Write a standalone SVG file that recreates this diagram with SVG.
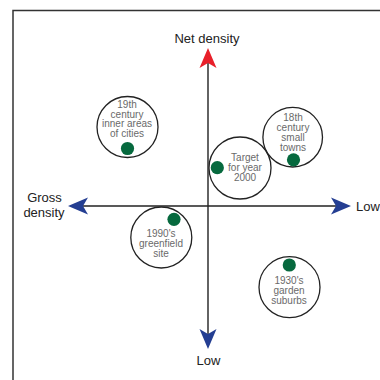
<svg xmlns="http://www.w3.org/2000/svg" width="380" height="380" viewBox="0 0 380 380">
<style>
.frame{fill:none;stroke:#333;stroke-width:1.5}
.axis{fill:none;stroke:#222;stroke-width:1.4}
.ring{fill:none;stroke:#222;stroke-width:1.3}
.dot{fill:#06693e}
.lbl{font-family:"Liberation Sans",Arial,sans-serif;font-size:13px;fill:#222}
.txt{font-family:"Liberation Sans",Arial,sans-serif;font-size:10px;fill:#6a6a6a;text-anchor:middle}
</style>
<defs>
<marker id="arrRed" viewBox="0 -8.5 20 17" refX="5" refY="0" markerWidth="20" markerHeight="17" markerUnits="userSpaceOnUse" orient="auto-start-reverse" overflow="visible">
<path d="M20,0 L0,-8.5 L5,0 L0,8.5 Z" fill="#e8202a"/>
</marker>
<marker id="arrBlue" viewBox="0 -8.5 20 17" refX="5" refY="0" markerWidth="20" markerHeight="17" markerUnits="userSpaceOnUse" orient="auto-start-reverse" overflow="visible">
<path d="M20,0 L0,-8.5 L5,0 L0,8.5 Z" fill="#243e92"/>
</marker>
</defs>
<rect width="380" height="380" fill="#fff"/>
<g id="frame">
<path class="frame" d="M13,382 V10.5 H382"/>
</g>
<g id="connectors">
<path class="axis" d="M208,334 V63" marker-start="url(#arrBlue)" marker-end="url(#arrRed)"/>
<path class="axis" d="M83,206 H336" marker-start="url(#arrBlue)" marker-end="url(#arrBlue)"/>
</g>
<g id="axis-labels">
<text class="lbl" x="207" y="43" text-anchor="middle">Net density</text>
<text class="lbl" x="44.5" y="201.5" text-anchor="middle">Gross</text>
<text class="lbl" x="44" y="217" text-anchor="middle">density</text>
<text class="lbl" x="356" y="211">Low</text>
<text class="lbl" x="208.5" y="365" text-anchor="middle">Low</text>
</g>
<g id="node-19th">
<circle class="ring" cx="127.5" cy="127" r="30.5"/>
<text class="txt" x="127" y="107.5">19th</text>
<text class="txt" x="127" y="117.5">century</text>
<text class="txt" x="127" y="127">inner areas</text>
<text class="txt" x="127" y="137">of cities</text>
<circle class="dot" cx="127.5" cy="148.5" r="6.6"/>
</g>
<g id="node-18th">
<circle class="ring" cx="292.7" cy="137.2" r="29.8"/>
<text class="txt" x="293" y="121">18th</text>
<text class="txt" x="293" y="131">century</text>
<text class="txt" x="293" y="141">small</text>
<text class="txt" x="293" y="151">towns</text>
<circle class="dot" cx="293.5" cy="159.8" r="6.6"/>
</g>
<g id="node-target">
<circle class="ring" cx="240" cy="168" r="31"/>
<text class="txt" x="245" y="161">Target</text>
<text class="txt" x="245" y="171">for year</text>
<text class="txt" x="245" y="181">2000</text>
<circle class="dot" cx="217.3" cy="167.7" r="6.6"/>
</g>
<g id="node-1990s">
<circle class="ring" cx="161.3" cy="237.5" r="30.5"/>
<circle class="dot" cx="174" cy="219.3" r="6.6"/>
<text class="txt" x="161" y="236.8">1990's</text>
<text class="txt" x="161" y="246.8">greenfield</text>
<text class="txt" x="161" y="256.8">site</text>
</g>
<g id="node-1930s">
<circle class="ring" cx="289.5" cy="287.2" r="30.5"/>
<circle class="dot" cx="289.3" cy="265" r="6.6"/>
<text class="txt" x="289" y="283.5">1930's</text>
<text class="txt" x="289" y="294">garden</text>
<text class="txt" x="289" y="304">suburbs</text>
</g>
</svg>
